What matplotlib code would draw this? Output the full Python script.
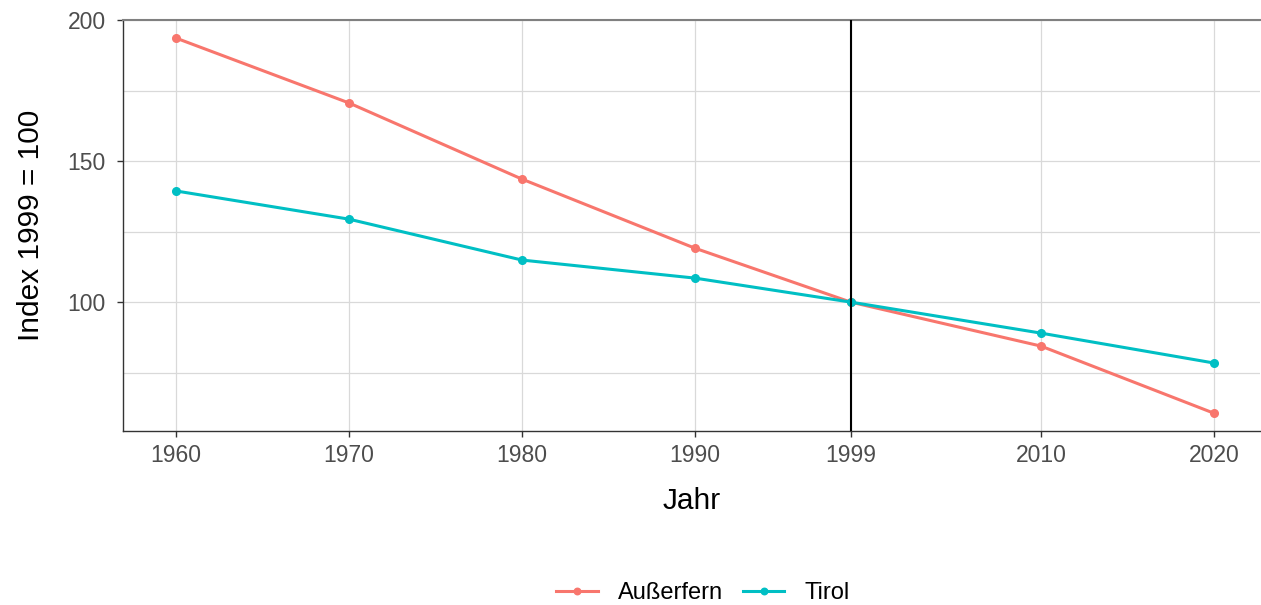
import matplotlib.pyplot as plt

plt.rcParams['font.family'] = ['Liberation Sans', 'DejaVu Sans']

# data
years = [1960, 1970, 1980, 1990, 1999, 2010, 2020]
ausserfern = [193.6, 170.6, 143.6, 119.1, 100.0, 84.4, 60.6]
tirol = [139.4, 129.4, 114.9, 108.5, 100.0, 89.0, 78.4]

fig = plt.figure(figsize=(12.61, 6.05), dpi=100)
ax = fig.add_axes([123 / 1261, 1 - 431 / 605, (1260 - 123) / 1261, (431 - 20) / 605])

ax.plot(years, ausserfern, color='#F8766D', lw=2.2, marker='o', ms=5.5, label='Außerfern', zorder=3)
ax.plot(years, tirol, color='#00BFC4', lw=2.2, marker='o', ms=5.5, label='Tirol', zorder=3)
ax.axvline(1999, color='black', lw=1.5, zorder=4)

ax.set_xlim(1956.94, 2022.66)
ax.set_ylim(54.3, 200)
ax.set_xticks(years)
ax.set_xticklabels([str(y) for y in years])
ax.set_yticks([100, 150, 200])
ax.set_yticks([75, 125, 175], minor=True)
ax.grid(True, which='major', color='#d9d9d9', lw=0.9)
ax.grid(True, which='minor', axis='y', color='#d9d9d9', lw=0.9)
ax.tick_params(axis='y', which='minor', length=0)
ax.tick_params(which='major', length=4.5, color='#333333', labelsize=16.5, labelcolor='#4d4d4d', width=1)
ax.tick_params(axis='x', pad=5)
ax.tick_params(axis='y', pad=8)
ax.set_axisbelow(True)

for side in ['left', 'bottom']:
    ax.spines[side].set_color('#333333')
    ax.spines[side].set_linewidth(1)
ax.spines['right'].set_visible(False)
ax.spines['top'].set_color('#808080')
ax.spines['top'].set_linewidth(1.5)

ax.set_xlabel('Jahr', fontsize=21.5, labelpad=14)
ax.set_ylabel('Index 1999 = 100', fontsize=21.5, labelpad=16)

fig.legend(loc='center', bbox_to_anchor=(703 / 1261, 1 - 593 / 605), ncol=2, frameon=False,
           fontsize=17, handlelength=1.75, handletextpad=0.85, columnspacing=0.85,
           markerscale=0.85)

fig.savefig('out.png', dpi=100)
